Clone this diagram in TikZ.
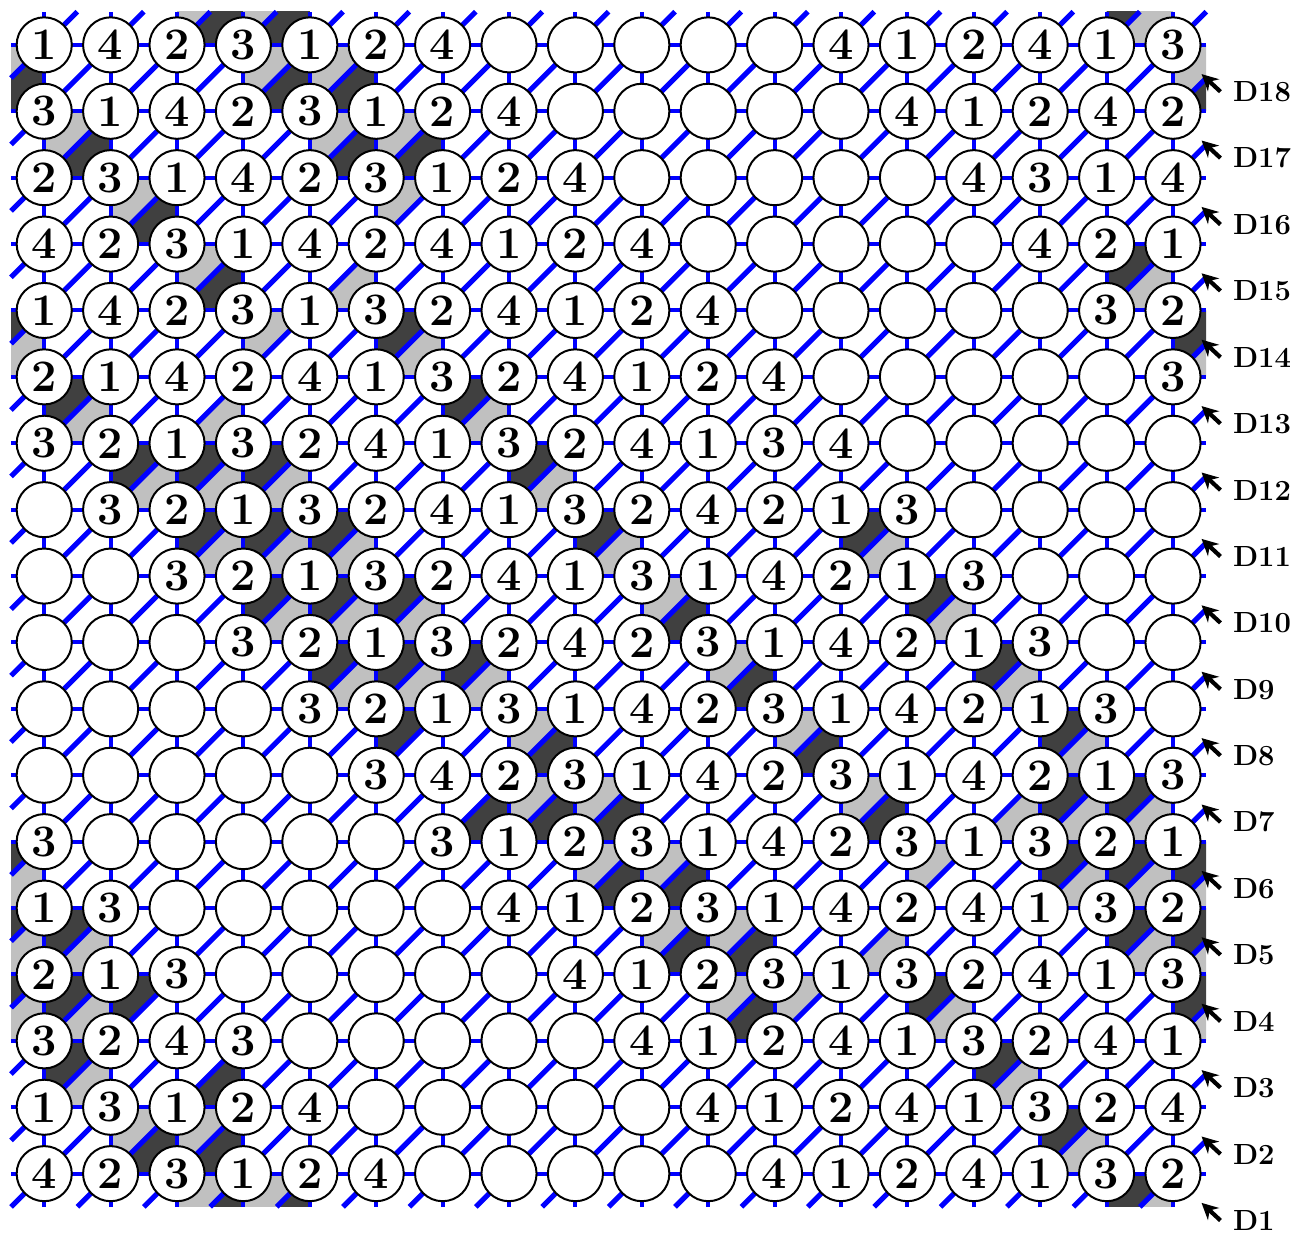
\documentclass[tikz,border=0pt]{standalone}
\usetikzlibrary{arrows.meta}
\definecolor{lineblue}{RGB}{0,0,255}
\definecolor{shadeL}{RGB}{192,192,192}
\definecolor{shadeD}{RGB}{64,64,64}
% label of a vertex: 0 = no label
\newcommand{\vnum}[1]{\ifnum#1>0 \textbf{#1}\fi}
\tikzset{
  vtx/.style={circle,draw=black,fill=white,line width=0.85pt,
              minimum size=0.83cm,inner sep=0pt,
              font=\fontsize{19.3}{22}\selectfont},
  tL/.style={fill=shadeL},
  tD/.style={fill=shadeD},
  tN/.style={},
}

\begin{document}
\begin{tikzpicture}[
    gridln/.style={lineblue,line width=1.7pt},
    diagln/.style={lineblue,line width=2.2pt},
    dlab/.style={font=\fontsize{12.5}{15}\selectfont\bfseries,
                 anchor=west,inner sep=0pt,outer xsep=0.19cm},
    darr/.style={-{Stealth[length=7pt,width=7pt]},line width=1.8pt}
  ]
  \useasboundingbox (-0.666,-0.911) rectangle (18.928,17.676);

  % fully labelled triangles (m/n/upper-left/lower-right)
  \begin{scope}
    \clip (-0.5,-0.5) rectangle (17.5,17.5);
    \foreach \m/\n/\a/\b in {
        3/0/L/D, 4/0/L/D, 17/0/D/L, 3/18/L/D, 4/18/L/D, 17/18/D/L,
        0/1/L/D, 18/1/L/D, 4/1/L/D, 5/1/L/D,
        1/2/L/D, 5/2/L/D, 6/2/L/D,
        2/3/L/D, 6/3/L/N,
        3/4/L/D, 5/4/N/L, 17/4/D/L,
        0/5/D/L, 18/5/D/L, 4/5/L/N, 6/5/D/L,
        1/6/D/L, 3/6/N/L, 7/6/D/L,
        2/7/D/L, 3/7/D/L, 4/7/D/L, 8/7/D/L,
        3/8/D/L, 4/8/D/L, 5/8/D/L, 9/8/D/L, 13/8/D/L,
        4/9/D/L, 5/9/D/L, 6/9/D/L, 10/9/L/D, 14/9/D/L,
        5/10/D/L, 6/10/D/L, 7/10/D/L, 11/10/L/D, 15/10/D/L,
        6/11/D/N, 8/11/L/D, 12/11/L/D, 16/11/D/L,
        7/12/N/D, 8/12/L/D, 9/12/L/D, 13/12/L/D, 15/12/N/L, 16/12/D/L, 17/12/D/L,
        0/13/D/L, 18/13/D/L, 9/13/L/D, 10/13/L/D, 14/13/L/N, 16/13/D/L, 17/13/D/L,
        0/14/D/L, 18/14/D/L, 1/14/D/L, 10/14/L/D, 11/14/L/D, 13/14/N/L, 17/14/D/L,
        0/15/D/L, 18/15/D/L, 1/15/D/L, 2/15/D/N, 11/15/L/D, 12/15/L/N, 14/15/D/L,
        1/16/D/L, 3/16/N/D, 15/16/D/L,
        2/17/L/D, 3/17/L/D, 16/17/D/L}
    {
      \path[t\a] (\m-1,18-\n) -- (\m-1,17-\n) -- (\m,18-\n) -- cycle;
      \path[t\b] (\m-1,17-\n) -- (\m,17-\n) -- (\m,18-\n) -- cycle;
    }
  \end{scope}

  % grid lines
  \foreach \k in {0,...,17} {
    \draw[gridln] (-0.5,\k) -- (17.5,\k);
    \draw[gridln] (\k,-0.5) -- (\k,17.5);
  }
  % diagonals
  \foreach \c in {0,...,17}
    \draw[diagln] (\c-0.5,-0.5) -- (17.5,17.5-\c);
  \foreach \c in {1,...,17}
    \draw[diagln] (-0.5,\c-0.5) -- (17.5-\c,17.5);

  % vertices
  \foreach \row [count=\i from 0] in {
      {1,4,2,3,1,2,4,0,0,0,0,0,4,1,2,4,1,3},
      {3,1,4,2,3,1,2,4,0,0,0,0,0,4,1,2,4,2},
      {2,3,1,4,2,3,1,2,4,0,0,0,0,0,4,3,1,4},
      {4,2,3,1,4,2,4,1,2,4,0,0,0,0,0,4,2,1},
      {1,4,2,3,1,3,2,4,1,2,4,0,0,0,0,0,3,2},
      {2,1,4,2,4,1,3,2,4,1,2,4,0,0,0,0,0,3},
      {3,2,1,3,2,4,1,3,2,4,1,3,4,0,0,0,0,0},
      {0,3,2,1,3,2,4,1,3,2,4,2,1,3,0,0,0,0},
      {0,0,3,2,1,3,2,4,1,3,1,4,2,1,3,0,0,0},
      {0,0,0,3,2,1,3,2,4,2,3,1,4,2,1,3,0,0},
      {0,0,0,0,3,2,1,3,1,4,2,3,1,4,2,1,3,0},
      {0,0,0,0,0,3,4,2,3,1,4,2,3,1,4,2,1,3},
      {3,0,0,0,0,0,3,1,2,3,1,4,2,3,1,3,2,1},
      {1,3,0,0,0,0,0,4,1,2,3,1,4,2,4,1,3,2},
      {2,1,3,0,0,0,0,0,4,1,2,3,1,3,2,4,1,3},
      {3,2,4,3,0,0,0,0,0,4,1,2,4,1,3,2,4,1},
      {1,3,1,2,4,0,0,0,0,0,4,1,2,4,1,3,2,4},
      {4,2,3,1,2,4,0,0,0,0,0,4,1,2,4,1,3,2}}
    \foreach \v [count=\j from 0] in \row
      \node[vtx] (v\i-\j) at (\j,17-\i) {\vnum{\v}};

  % diagonal names
  \foreach \k in {1,...,18} {
    \node[dlab] (d\k) at (17.715,\k-1.705) {D\k};
    \coordinate (p\k) at (17.43,\k-1.44);
    \draw[darr] (d\k.west) -- (p\k);
  }
\end{tikzpicture}
\end{document}
